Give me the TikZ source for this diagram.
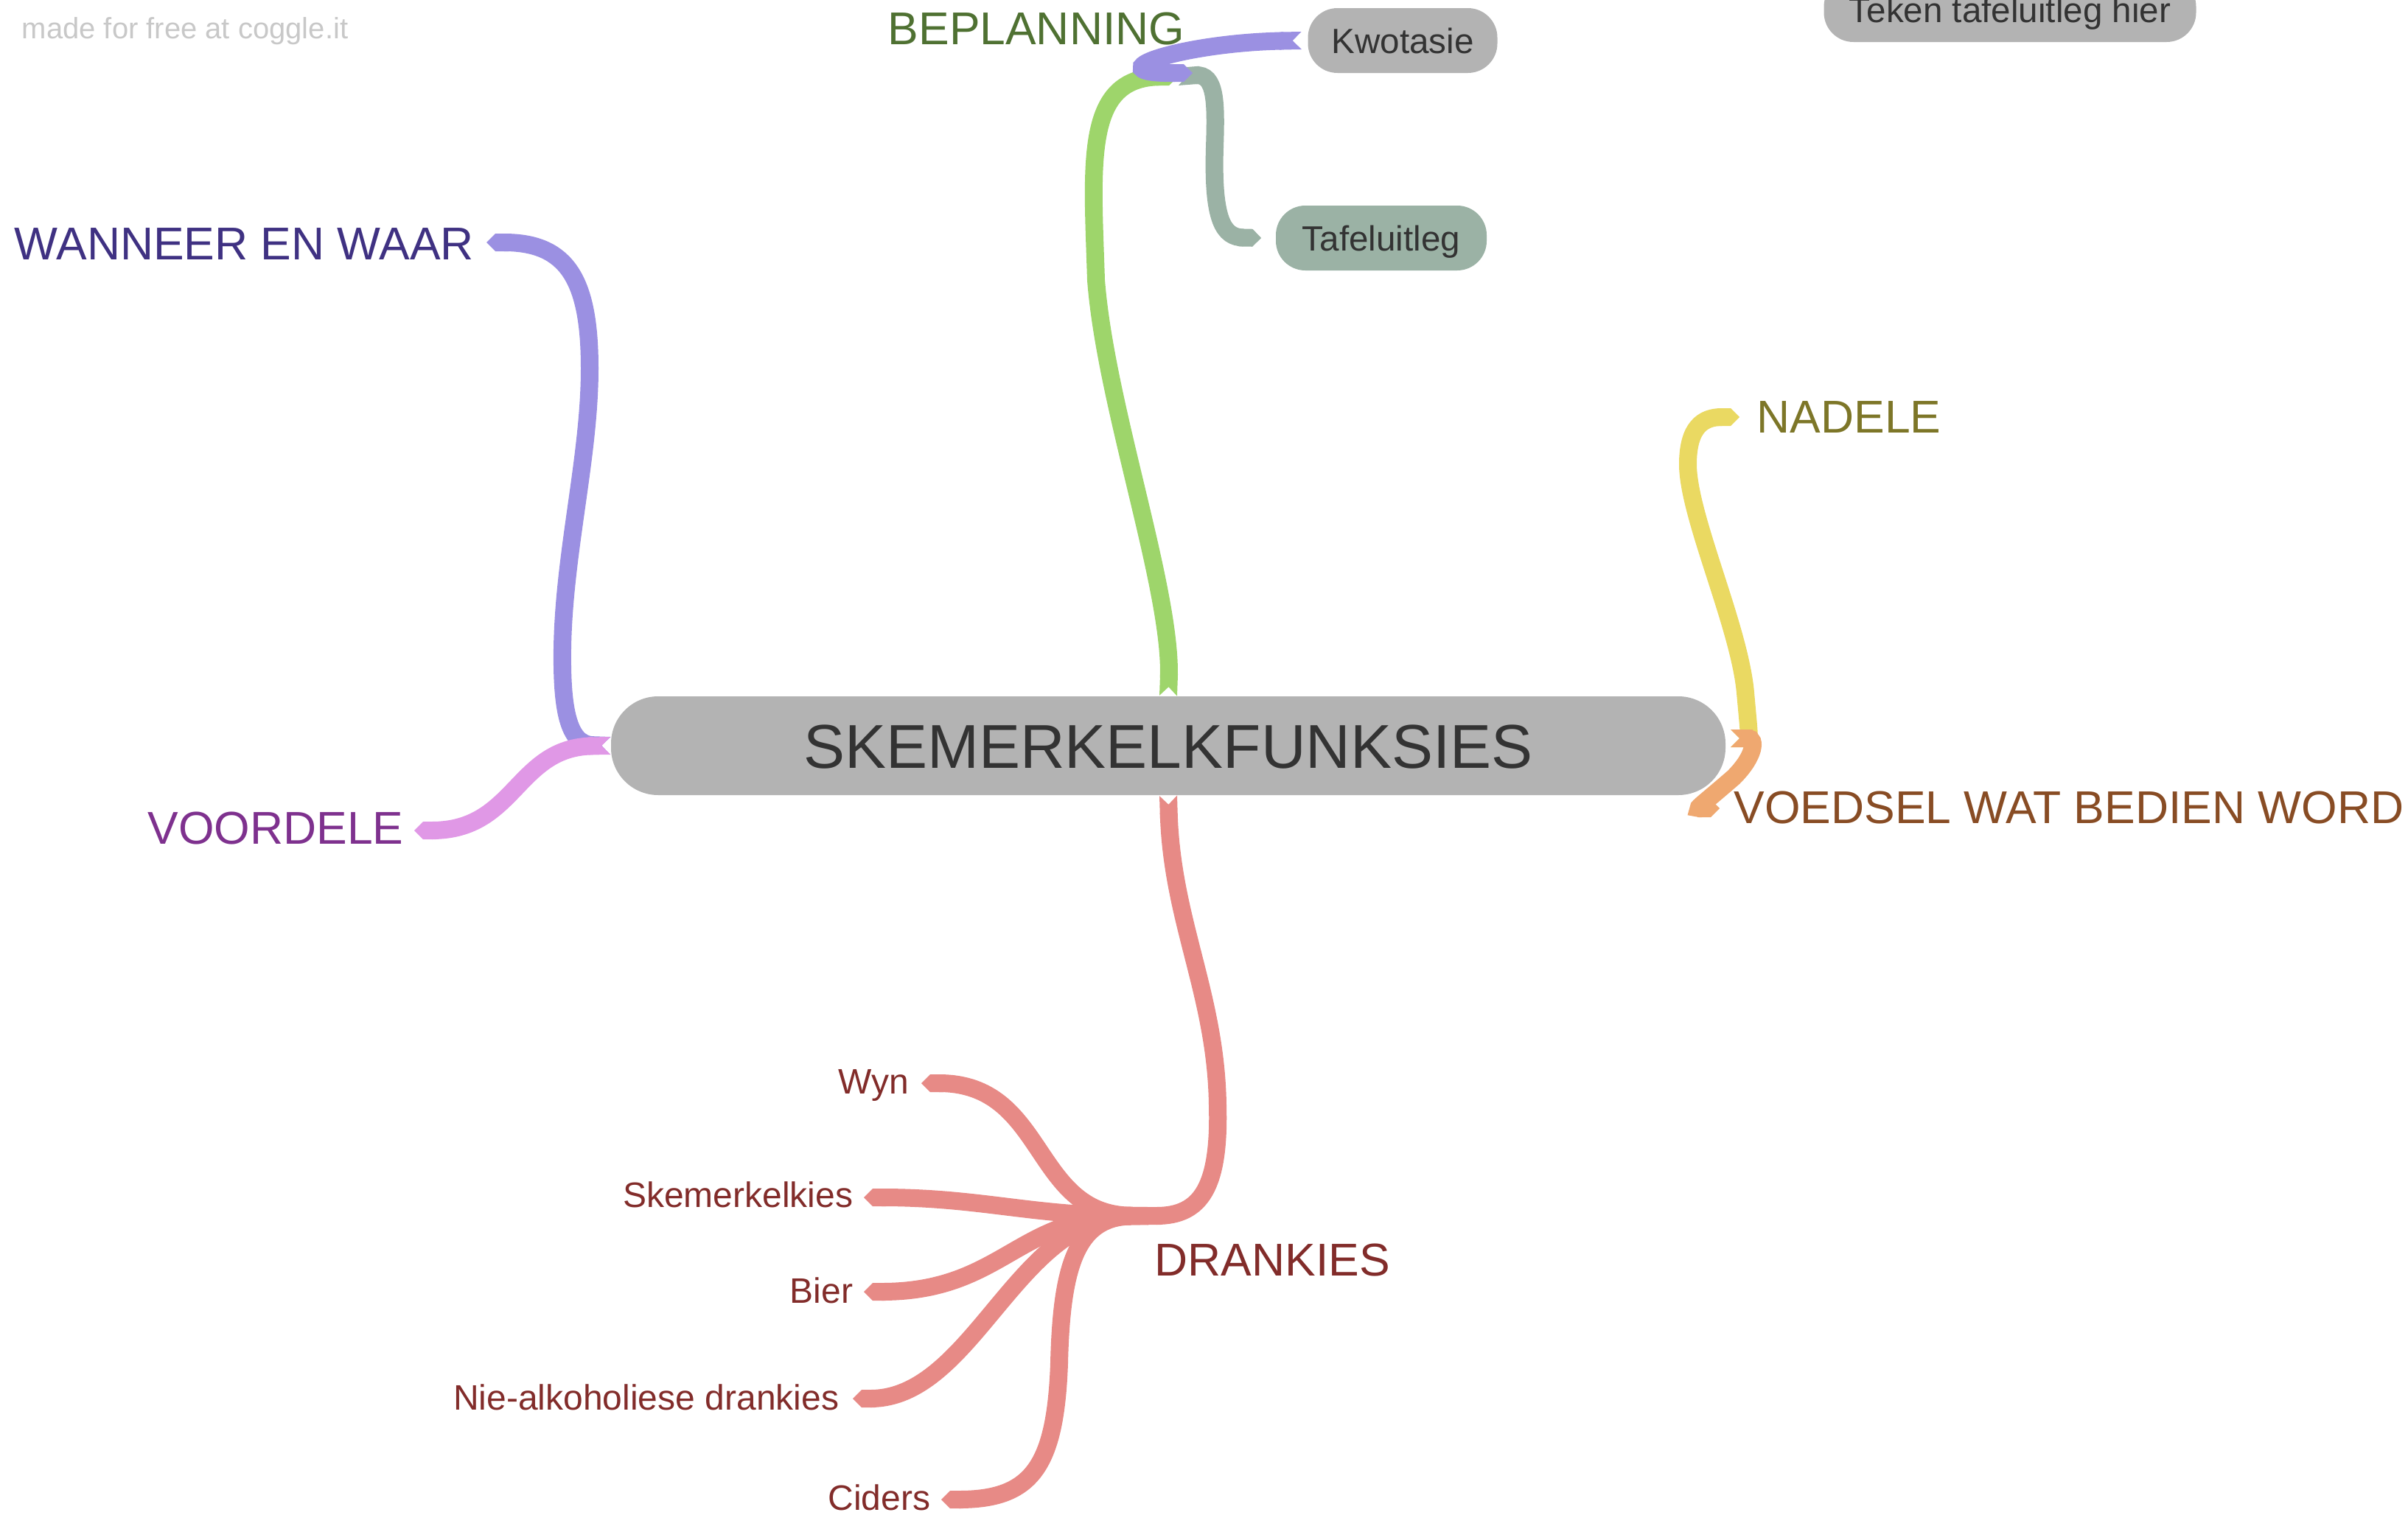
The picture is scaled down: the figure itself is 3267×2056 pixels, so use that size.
\documentclass[tikz,border=0pt]{standalone}
\usepackage{fontspec}
\setmainfont{Liberation Sans}
\usetikzlibrary{arrows.meta}

\definecolor{nodegray}{HTML}{B3B3B3}
\definecolor{nodetext}{HTML}{333333}
\definecolor{watermark}{HTML}{C8C8C8}
\definecolor{branchgreen}{HTML}{9ED56B}
\definecolor{branchlilac}{HTML}{9B90E2}
\definecolor{branchpink}{HTML}{E098E6}
\definecolor{branchyellow}{HTML}{EAD962}
\definecolor{branchorange}{HTML}{EFA870}
\definecolor{branchred}{HTML}{E78A86}
\definecolor{branchgrey}{HTML}{9BB2A5}
\definecolor{plantext}{HTML}{4F7132}
\definecolor{whentext}{HTML}{3F3182}
\definecolor{protext}{HTML}{7E318E}
\definecolor{contratext}{HTML}{7D7628}
\definecolor{foodtext}{HTML}{884C24}
\definecolor{drinktext}{HTML}{822C2A}

\begin{document}
\begin{tikzpicture}[x=0.25pt,y=-0.25pt,
	branch/.style={line width=6pt,{Triangle Cap[reversed]}-{Triangle Cap}},
	pill/.style={fill=nodegray,rounded corners=10pt,minimum height=22pt,inner sep=0pt,
		text=nodetext,font=\fontsize{11.9pt}{14pt}\selectfont,text height=8.5pt,text depth=0pt},
	mainlabel/.style={inner sep=0pt,anchor=base west,font=\fontsize{15.6pt}{18pt}\selectfont},
	sublabel/.style={inner sep=0pt,anchor=base east,text=drinktext,font=\fontsize{12pt}{14pt}\selectfont}]
	\useasboundingbox (0,0) rectangle (3267,2056);

	\node[inner sep=0pt,anchor=base west,text=watermark,font=\fontsize{10pt}{12pt}\selectfont]
		(coggle) at (29,52) {made for free at coggle.it};

	% middelpunt
	\node[fill=nodegray,rounded corners=16pt,minimum width=378pt,minimum height=33.5pt,inner sep=0pt,
		text=nodetext,font=\fontsize{21pt}{24pt}\selectfont,text height=15.05pt,text depth=0pt]
		(skemer) at (1585,1012) {SKEMERKELKFUNKSIES};

	\node[pill,minimum width=64.25pt] (kwotasie) at (1903,55) {Kwotasie};
	\node[pill,minimum width=71.5pt,fill=branchgrey] (tafel) at (1874,323) {Tafeluitleg};
	\node[pill,minimum width=126.25pt] (teken) at (2727,13) {Teken tafeluitleg hier};

	\node[mainlabel,text=plantext] (beplanning) at (1204,61) {BEPLANNING};
	\node[mainlabel,text=whentext] (wanneer) at (19,352) {WANNEER EN WAAR};
	\node[mainlabel,text=protext] (voordele) at (200,1145) {VOORDELE};
	\node[mainlabel,text=contratext] (nadele) at (2383,587) {NADELE};
	\node[mainlabel,text=foodtext] (voedsel) at (2352,1117) {VOEDSEL WAT BEDIEN WORD};
	\node[mainlabel,text=drinktext] (drankies) at (1566,1731) {DRANKIES};

	\node[sublabel] (wyn) at (1234,1484) {Wyn};
	\node[sublabel] (skemerkelkies) at (1158,1638) {Skemerkelkies};
	\node[sublabel] (bier) at (1158,1768) {Bier};
	\node[sublabel] (niealk) at (1139,1913) {Nie-alkoholiese drankies};
	\node[sublabel] (ciders) at (1263,2049) {Ciders};

	% punte waar die takke eindig
	\coordinate (beplanning-end) at (1598,104);
	\coordinate (wanneer-end) at (660,329);
	\coordinate (voordele-end) at (562,1127);
	\coordinate (right-root) at (2348,1002);
	\coordinate (nadele-end) at (2360,566);
	\coordinate (voedsel-end) at (2333,1097);
	\coordinate (drankies-end) at (1545,1650);
	\coordinate (drankies-root) at (1558,1650);
	\coordinate (wyn-end) at (1250,1470);
	\coordinate (skemerkelkies-end) at (1172,1625);
	\coordinate (bier-end) at (1172,1753);
	\coordinate (niealk-end) at (1157,1898);
	\coordinate (ciders-end) at (1277,2035);

	% takke van die middelpunt
	\draw[branch,branchgreen] (skemer.north) .. controls (1590,800) and (1500,550) .. (1487,380)
		.. controls (1482,220) and (1470,105) .. (beplanning-end);
	\draw[branch,branchlilac] (skemer.west) .. controls (770,1010) and (762,960) .. (763,880)
		.. controls (765,750) and (800,620) .. (800,500)
		.. controls (800,380) and (770,329) .. (wanneer-end);
	\draw[branch,branchpink] (skemer.west) .. controls (700,1014) and (700,1127) .. (voordele-end);
	\draw[branch,branchyellow] (right-root) .. controls (2374,1002) and (2372,985) .. (2368,940)
		.. controls (2360,850) and (2290,700) .. (2290,630)
		.. controls (2290,580) and (2310,566) .. (nadele-end);
	\draw[branch,branchorange] (right-root) .. controls (2382,1002) and (2382,1025) .. (2352,1055)
		.. controls (2300,1100) and (2300,1097) .. (voedsel-end);
	\draw[branch,branchred] (skemer.south) .. controls (1590,1250) and (1650,1350) .. (1652,1500)
		.. controls (1655,1610) and (1630,1650) .. (drankies-end);

	% beplanning
	\draw[branch,branchgrey] (beplanning-end) .. controls (1650,100) and (1650,140) .. (1648,200)
		.. controls (1645,300) and (1660,322) .. ([xshift=-4.75pt]tafel.west);
	\draw[branch,branchlilac] ([xshift=-2pt]kwotasie.west) .. controls (1600,58) and (1480,100) .. (1618,99);

	% drankies
	\draw[branch,branchred] (drankies-root) .. controls (1400,1648) and (1420,1470) .. (wyn-end);
	\draw[branch,branchred] (drankies-root) .. controls (1400,1650) and (1330,1625) .. (skemerkelkies-end);
	\draw[branch,branchred] (drankies-root) .. controls (1380,1650) and (1360,1753) .. (bier-end);
	\draw[branch,branchred] (drankies-root) .. controls (1380,1650) and (1320,1898) .. (niealk-end);
	\draw[branch,branchred] (drankies-root) .. controls (1460,1652) and (1440,1720) .. (1437,1850)
		.. controls (1432,1990) and (1400,2035) .. (ciders-end);
\end{tikzpicture}
\end{document}
